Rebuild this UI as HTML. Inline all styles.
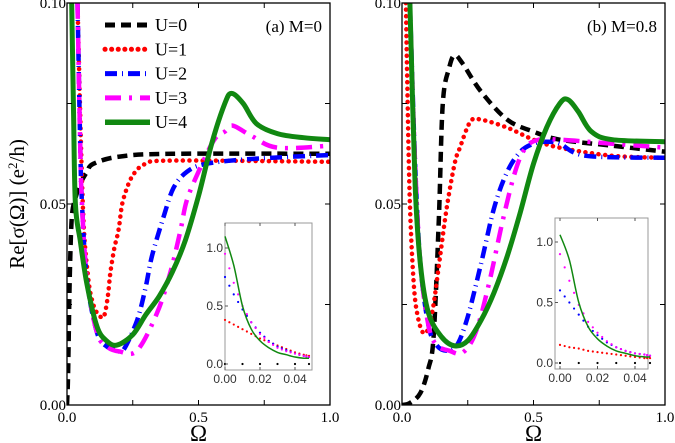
<!DOCTYPE html>
<html><head><meta charset="utf-8"><style>
body{margin:0;background:#fff}
svg{display:block;font-family:"Liberation Serif",serif}
</style></head><body>
<svg id="chart" width="675" height="443" viewBox="0 0 675 443"></svg>
<script>
const styles=[
 {c:'#000',w:4.5,d:'10,6',cap:'butt'},
 {c:'#ff0000',w:4.5,d:'0.1,6.5',cap:'round'},
 {c:'#0000ff',w:4.5,d:'12,5,1,5',cap:'butt'},
 {c:'#ff00ff',w:4.5,d:'16,8,3,8',cap:'butt'},
 {c:'#118811',w:5,d:'',cap:'butt'}];
const seriesNames=['U=0','U=1','U=2','U=3','U=4'];
const aU0x=[0,0.003,0.006,0.01,0.015,0.02,0.03,0.05,0.076,0.1,0.2,0.4,1.0];
const aU0y=[0,0.005,0.015,0.03,0.042,0.048,0.051,0.055,0.058,0.06,0.0618,0.0625,0.0625];
const aU1x=[0.04,0.06,0.08,0.1,0.12,0.14,0.155,0.165,0.18,0.196,0.21,0.234,0.26,0.3,0.4,1.0];
const aU1y=[0.1,0.05,0.032,0.025,0.0225,0.022,0.027,0.033,0.039,0.0435,0.05,0.055,0.058,0.06,0.0608,0.0605];
const aU2x=[0.04,0.05,0.057,0.076,0.114,0.152,0.19,0.215,0.266,0.298,0.323,0.368,0.405,0.456,0.53,0.7,1.0];
const aU2y=[0.1,0.065,0.05,0.031,0.018,0.0145,0.0137,0.0137,0.021,0.029,0.037,0.047,0.054,0.058,0.06,0.0612,0.0622];
const aU3x=[0.04,0.05,0.057,0.076,0.114,0.152,0.2,0.266,0.342,0.393,0.43,0.456,0.507,0.56,0.6,0.63,0.7,0.8,1.0];
const aU3y=[0.1,0.065,0.05,0.031,0.018,0.0145,0.0133,0.0135,0.0228,0.033,0.043,0.051,0.059,0.066,0.068,0.0695,0.067,0.064,0.0645];
const aU4x=[0.018,0.025,0.032,0.05,0.076,0.114,0.15,0.19,0.25,0.3,0.35,0.4,0.45,0.5,0.55,0.6,0.626,0.67,0.72,0.8,0.9,1.0];
const aU4y=[0.1,0.072,0.05,0.041,0.03,0.0195,0.016,0.0149,0.0175,0.0225,0.027,0.033,0.041,0.052,0.065,0.075,0.0775,0.075,0.07,0.0675,0.0665,0.066];
const bU0x=[0,0.03,0.07,0.1,0.12,0.14,0.155,0.18,0.2,0.23,0.3,0.4,0.5,0.6,0.8,1.0];
const bU0y=[0,0.0005,0.003,0.009,0.017,0.046,0.075,0.084,0.087,0.085,0.078,0.071,0.068,0.066,0.0645,0.063];
const bU1x=[0.015,0.02,0.03,0.045,0.06,0.08,0.1,0.12,0.145,0.17,0.2,0.22,0.26,0.3,0.4,0.5,0.6,0.8,1.0];
const bU1y=[0.1,0.08,0.05,0.03,0.022,0.018,0.019,0.025,0.037,0.049,0.06,0.064,0.0705,0.071,0.069,0.066,0.064,0.062,0.0615];
const bU2x=[0.03,0.05,0.07,0.1,0.13,0.17,0.21,0.25,0.3,0.35,0.4,0.45,0.5,0.55,0.6,0.7,1.0];
const bU2y=[0.1,0.06,0.035,0.02,0.015,0.0135,0.015,0.022,0.035,0.049,0.058,0.063,0.065,0.0655,0.065,0.062,0.0615];
const bU3x=[0.03,0.05,0.07,0.1,0.13,0.18,0.23,0.28,0.33,0.38,0.43,0.47,0.52,0.6,0.8,1.0];
const bU3y=[0.1,0.06,0.035,0.02,0.015,0.0135,0.013,0.018,0.03,0.045,0.058,0.064,0.066,0.066,0.065,0.064];
const bU4x=[0.03,0.05,0.07,0.1,0.15,0.2,0.25,0.3,0.35,0.4,0.45,0.5,0.55,0.6,0.63,0.67,0.72,0.8,1.0];
const bU4y=[0.1,0.055,0.035,0.023,0.017,0.0147,0.016,0.021,0.028,0.037,0.048,0.06,0.069,0.075,0.076,0.073,0.068,0.066,0.0655];
const insX=[0,0.005,0.01,0.015,0.02,0.025,0.03,0.035,0.04,0.045,0.048];
const insAU1=[0.38,0.34,0.3,0.26,0.22,0.19,0.16,0.13,0.1,0.08,0.07];
const insAU2=[0.75,0.6,0.47,0.36,0.27,0.2,0.15,0.12,0.09,0.07,0.06];
const insAU3=[0.95,0.7,0.5,0.36,0.26,0.19,0.14,0.11,0.09,0.07,0.06];
const insAU4=[1.1,0.85,0.5,0.3,0.2,0.14,0.1,0.08,0.06,0.05,0.05];
const insBU1=[0.15,0.13,0.12,0.1,0.09,0.08,0.07,0.06,0.05,0.04,0.04];
const insBU2=[0.6,0.5,0.4,0.3,0.23,0.17,0.13,0.1,0.08,0.07,0.06];
const insBU3=[0.9,0.68,0.48,0.34,0.25,0.18,0.13,0.1,0.08,0.07,0.06];
const insBU4=[1.06,0.85,0.5,0.3,0.2,0.14,0.1,0.08,0.06,0.05,0.05];
const yTicks=['0.00','0.05','0.10'];
const xTicks=['0.0','0.5','1.0'];
const insYTicks=['0.0','0.5','1.0'];
const insXTicks=['0.00','0.02','0.04'];

const svg=document.getElementById('chart');
const NS='http://www.w3.org/2000/svg';
function mk(t,a,p){const e=document.createElementNS(NS,t);for(const k in a)e.setAttribute(k,a[k]);(p||svg).appendChild(e);return e;}
function clipRect(id,x,y,w,h){const c=mk('clipPath',{id:id});mk('rect',{x:x,y:y,width:w,height:h},c);}
function smooth(p){let d='M'+p[0][0].toFixed(1)+','+p[0][1].toFixed(1);
 for(let i=0;i<p.length-1;i++){const p0=p[i-1]||p[i],p1=p[i],p2=p[i+1],p3=p[i+2]||p2;
  const c1=[p1[0]+(p2[0]-p0[0])/6,p1[1]+(p2[1]-p0[1])/6],c2=[p2[0]-(p3[0]-p1[0])/6,p2[1]-(p3[1]-p1[1])/6];
  d+=' C'+c1.map(v=>v.toFixed(1))+' '+c2.map(v=>v.toFixed(1))+' '+p2.map(v=>v.toFixed(1));}
 return d;}
function panel(P,name,xs,ys,ins,insVals,label){
 const g=mk('g',{});
 const X=v=>P.x0+(P.x1-P.x0)*v, Y=v=>P.y0-(P.y0-P.y1)*v/0.1;
 clipRect(name+'-clip',P.x0,P.y1,P.x1-P.x0,P.y0-P.y1);
 for(let i=0;i<5;i++){
  const s=styles[i];const pts=xs[i].map((x,j)=>[X(x),Y(ys[i][j])]);
  const l=mk('path',{d:smooth(pts),fill:'none',stroke:s.c,'stroke-width':s.w,'stroke-dasharray':s.d,'stroke-linecap':s.cap,'stroke-linejoin':'round','clip-path':'url(#'+name+'-clip)'},g);
  
  
 }
 mk('rect',{x:P.x0,y:P.y1,width:P.x1-P.x0,height:P.y0-P.y1,fill:'none',stroke:'#000','stroke-width':1.3},g);
 for(let k=0;k<=4;k++){const v=k*0.25;mk('line',{x1:X(v),x2:X(v),y1:P.y0,y2:P.y0-5,stroke:'#000'},g);mk('line',{x1:X(v),x2:X(v),y1:P.y1,y2:P.y1+5,stroke:'#000'},g);
  const yv=k*0.025;mk('line',{x1:P.x0,x2:P.x0+5,y1:Y(yv),y2:Y(yv),stroke:'#000'},g);mk('line',{x1:P.x1,x2:P.x1-5,y1:Y(yv),y2:Y(yv),stroke:'#000'},g);}
 xTicks.forEach((t,i)=>{const e=mk('text',{x:X(i*0.5),y:P.y0+17,'text-anchor':'middle','font-size':15},g);e.textContent=t;});
 yTicks.forEach((t,i)=>{const e=mk('text',{x:P.x0-1,y:Y(i*0.05)+5,'text-anchor':'end','font-size':15},g);e.textContent=t;});
 const xt=mk('text',{x:(P.x0+P.x1)/2,y:441,'text-anchor':'middle','font-size':23},g);xt.textContent='Ω';
 const lb=mk('text',{x:P.x1-8,y:32,'text-anchor':'end','font-size':17},g);lb.textContent=label;
 const ig=mk('g',{},g);
 const IX=v=>ins.ix0+(ins.ix1-ins.ix0)*v/0.04, IY=v=>ins.iy0-(ins.iy0-ins.iy1)*v;
 mk('rect',{x:ins.l,y:ins.t,width:ins.r-ins.l,height:ins.b-ins.t,fill:'#fff',stroke:'#999','stroke-width':1},ig);
 const dc=['#000','#ff0000','#0000ff','#ff00ff'];
 for(let k=0;k<4;k++){const vals=k==0?insX.map(()=>0):insVals[k-1];
  insX.forEach((x,j)=>{if(k==0&&j%2)return;mk('circle',{cx:IX(x),cy:IY(vals[j]),r:1.1,fill:dc[k]},ig);});
  insX.forEach((x,j)=>{if(j==insX.length-1)return;const xm=(x+insX[j+1])/2,vm=(vals[j]+vals[j+1])/2;if(k)mk('circle',{cx:IX(xm),cy:IY(vm),r:1.1,fill:dc[k]},ig);});}
 const gp=insX.map((x,j)=>[IX(x),IY(insVals[3][j])]);
 mk('path',{d:smooth(gp),fill:'none',stroke:'#118811','stroke-width':1.5},ig);
 insXTicks.forEach((t,i)=>{const x=IX(i*0.02);mk('line',{x1:x,x2:x,y1:ins.b,y2:ins.b-3,stroke:'#555'},ig);mk('line',{x1:x,x2:x,y1:ins.t,y2:ins.t+3,stroke:'#555'},ig);const e=mk('text',{x:x,y:ins.b+13,'text-anchor':'middle','font-size':12,'font-family':'Liberation Sans,sans-serif',fill:'#333'},ig);e.textContent=t;});
 insYTicks.forEach((t,i)=>{const y=IY(i*0.5);mk('line',{x1:ins.l,x2:ins.l+3,y1:y,y2:y,stroke:'#555'},ig);const e=mk('text',{x:ins.l-2,y:y+4,'text-anchor':'end','font-size':12,'font-family':'Liberation Sans,sans-serif',fill:'#333'},ig);e.textContent=t;});
}
panel({x0:67,x1:330,y0:405,y1:3},'panel-a',[aU0x,aU1x,aU2x,aU3x,aU4x],[aU0y,aU1y,aU2y,aU3y,aU4y],
 {l:225,r:312,t:223,b:370,ix0:225,ix1:295,iy0:364,iy1:248},[insAU1,insAU2,insAU3,insAU4],'(a) M=0');
panel({x0:402,x1:665,y0:405,y1:3},'panel-b',[bU0x,bU1x,bU2x,bU3x,bU4x],[bU0y,bU1y,bU2y,bU3y,bU4y],
 {l:555,r:648,t:218,b:369,ix0:560,ix1:635,iy0:363,iy1:242},[insBU1,insBU2,insBU3,insBU4],'(b) M=0.8');
const lg=mk('g',{});
seriesNames.forEach((n,i)=>{const y=25+i*24.3,s=styles[i];
 mk('line',{x1:105,x2:150,y1:y,y2:y,stroke:s.c,'stroke-width':s.w+0.5,'stroke-dasharray':s.d,'stroke-linecap':s.cap},lg);
 const t=mk('text',{x:155,y:y+6,'font-size':18},lg);t.textContent=n;});
const yt=mk('text',{x:24,y:204,'text-anchor':'middle','font-size':21,transform:'rotate(-90 24 204)'});

yt.innerHTML='Re[σ(Ω)]  (e<tspan baseline-shift="super" font-size="13">2</tspan>/h)';
</script>
</body></html>
